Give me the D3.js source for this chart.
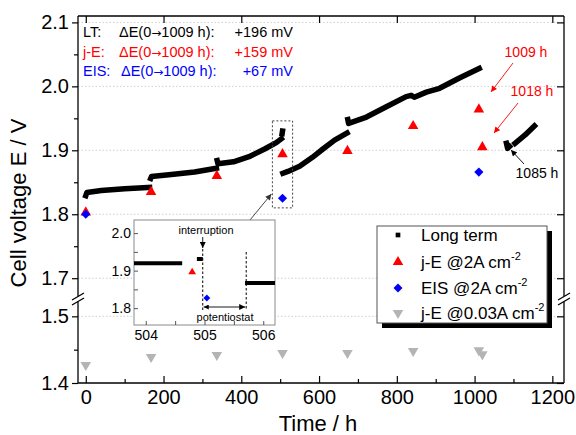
<!DOCTYPE html>
<html><head><meta charset="utf-8">
<script src="https://cdn.jsdelivr.net/npm/d3@7"></script>
<style>
body{margin:0;background:#fff;}
svg{display:block;font-family:"Liberation Sans",Arial,sans-serif;}
</style>
</head><body>
<svg id="c" width="576" height="435"></svg>
<script>
// ---------------- data ----------------
const ltSeg1 = [[0,1.829],[3,1.834],[40,1.837],[100,1.840],[164,1.842]];
const ltSeg2 = [[167,1.856],[169,1.859],[220,1.862],[280,1.866],[336,1.872]];
const ltSeg3 = [[338,1.884],[340,1.879],[380,1.882],[420,1.890],[460,1.902],[490,1.912],[503,1.918]];
const ltSeg3b = [[505,1.926],[506,1.930]];
const ltSeg4 = [[507,1.864],[520,1.867],[550,1.875],[583,1.889],[610,1.902],[640,1.916],[672,1.927]];
const ltSeg5 = [[674,1.948],[676,1.942],[722,1.952],[773,1.968],[824,1.984],[837,1.986],[845,1.983],[876,1.991],[910,1.997],[961,2.013],[1012,2.028]];
const ltSeg6 = [[1082,1.911],[1085,1.903],[1090,1.906]];
const ltSeg7 = [[1104,1.911],[1130,1.924],[1154,1.938]];
const ltSegments = [ltSeg1, ltSeg2, ltSeg3, ltSeg3b, ltSeg4, ltSeg5, ltSeg6, ltSeg7];

const jeTimes  = [0, 168, 337, 506, 673, 842, 1011, 1020];
const jeValues = [1.803, 1.835, 1.860, 1.894, 1.899, 1.938, 1.964, 1.905];
const eisTimes  = [0, 506, 1011];
const eisValues = [1.800, 1.825, 1.866];
const jeLowTimes  = [0, 168, 337, 506, 673, 842, 1011, 1020];
const jeLowValues = [1.427, 1.439, 1.442, 1.445, 1.445, 1.448, 1.449, 1.443];

const xTicks = [0,200,400,600,800,1000,1200];
const xMinor = [100,300,500,700,900,1100];
const yTicksUpper = [1.7,1.8,1.9,2.0,2.1];
const yMinorUpper = [1.75,1.85,1.95,2.05];
const yTicksLower = [1.4,1.5];
const yMinorLower = [1.45];

// inset
const insetLT1 = [[503.8,1.920],[504.62,1.920]];
const insetLT2 = [[504.87,1.931],[504.97,1.931]];
const insetLT3 = [[505.69,1.867],[506.2,1.867]];
const insetJE  = [[504.79,1.896]];
const insetEIS = [[505.04,1.827]];
const insetXTicks = [504,504.5,505,505.5,506];
const insetYTicks = [1.8,1.85,1.9,1.95,2.0];
const insetMarks = [504.97, 505.71];

// ---------------- scales ----------------
const svg = d3.select("#c");
const X0 = 78, X1 = 564, YT = 16, YB = 383;
const x = d3.scaleLinear().domain([-20,1230]).range([X0,X1]);
const yTop = d3.scaleLinear().domain([1.68,2.11]).range([291,16]);
const yBot = d3.scaleLinear().domain([1.4,1.52]).range([383,303]);
const yv = v => v >= 1.6 ? yTop(v) : yBot(v);
const BRK1 = 296.5, BRK2 = 301.5;

// gridlines
const grid = svg.append("g");
grid.selectAll("line").data(yTicksUpper.concat([1.5])).join("line")
  .attr("x1",X0).attr("x2",X1).attr("y1",d=>yv(d)).attr("y2",d=>yv(d))
  .attr("stroke","#cfcfcf").attr("stroke-width",1).attr("stroke-dasharray","1.5,2");

// ---------------- axes ----------------
const tickFont = g => g.selectAll("text").attr("font-size",20).attr("fill","#000").attr("font-family","Liberation Sans, Arial, sans-serif");
function clean(g){ g.select(".domain").remove(); g.selectAll("line").attr("stroke","#000").attr("stroke-width",1.2); }

svg.append("g").attr("transform",`translate(${X0},0)`)
  .call(d3.axisLeft(yTop).tickValues(yTicksUpper).tickSize(6).tickPadding(3).tickFormat(d3.format(".1f")))
  .call(clean).call(tickFont);
svg.append("g").attr("transform",`translate(${X0},0)`)
  .call(d3.axisLeft(yTop).tickValues(yMinorUpper).tickSize(4).tickFormat(""))
  .call(clean);
svg.append("g").attr("transform",`translate(${X0},0)`)
  .call(d3.axisLeft(yBot).tickValues(yTicksLower).tickSize(6).tickPadding(3).tickFormat(d3.format(".1f")))
  .call(clean).call(tickFont);
svg.append("g").attr("transform",`translate(${X0},0)`)
  .call(d3.axisLeft(yBot).tickValues(yMinorLower).tickSize(4).tickFormat(""))
  .call(clean);
svg.append("g").attr("transform",`translate(${X1},0)`)
  .call(d3.axisRight(yTop).tickValues(yTicksUpper).tickSize(-7).tickFormat(""))
  .call(clean);
svg.append("g").attr("transform",`translate(${X1},0)`)
  .call(d3.axisRight(yBot).tickValues(yTicksLower).tickSize(-7).tickFormat(""))
  .call(clean);
svg.append("g").attr("transform",`translate(0,${YB})`)
  .call(d3.axisBottom(x).tickValues(xTicks).tickSize(-7).tickPadding(7).tickFormat(d3.format("d")))
  .call(clean).call(tickFont);
svg.append("g").attr("transform",`translate(0,${YB})`)
  .call(d3.axisBottom(x).tickValues(xMinor).tickSize(-4).tickFormat(""))
  .call(clean);
svg.append("g").attr("transform",`translate(0,${YT})`)
  .call(d3.axisTop(x).tickValues(xTicks).tickSize(-7).tickFormat(""))
  .call(clean);

// frame
const fr = svg.append("g").attr("stroke","#000").attr("stroke-width",1.3);
fr.append("line").attr("x1",X0).attr("x2",X1).attr("y1",YT).attr("y2",YT);
fr.append("line").attr("x1",X0).attr("x2",X1).attr("y1",YB).attr("y2",YB);
[X0,X1].forEach(ax=>{
  fr.append("line").attr("x1",ax).attr("x2",ax).attr("y1",YT).attr("y2",BRK1);
  fr.append("line").attr("x1",ax).attr("x2",ax).attr("y1",BRK2).attr("y2",YB);
  [BRK1,BRK2].forEach(b=>{
    fr.append("line").attr("x1",ax-6).attr("y1",b+3.5).attr("x2",ax+6).attr("y2",b-3.5);
  });
});

// axis titles
svg.append("text").attr("x",318).attr("y",431).attr("text-anchor","middle")
  .attr("font-size",22).text("Time / h");
svg.append("text").attr("transform","translate(26,203) rotate(-90)").attr("text-anchor","middle")
  .attr("font-size",22).text("Cell voltage E / V");

// ---------------- marks ----------------
const line = d3.line().x(d=>x(d[0])).y(d=>yv(d[1]));
svg.append("g").selectAll("path").data(ltSegments).join("path")
  .attr("d",line).attr("fill","none").attr("stroke","#000").attr("stroke-width",5.5)
  .attr("stroke-linejoin","round").attr("stroke-linecap","square");

const tri = d3.symbol(d3.symbolTriangle, 48);
const sq = d3.symbol(d3.symbolSquare, 42);
svg.append("g").selectAll("path").data(jeLowTimes).join("path")
  .attr("d",tri).attr("fill","#b4b4b4")
  .attr("transform",(d,i)=>`translate(${x(d)},${yv(jeLowValues[i])}) rotate(180)`);
svg.append("g").selectAll("path").data(jeTimes).join("path")
  .attr("d",tri).attr("fill","#ff0000")
  .attr("transform",(d,i)=>`translate(${x(d)},${yv(jeValues[i])})`);
svg.append("g").selectAll("path").data(eisTimes).join("path")
  .attr("d",sq).attr("fill","#0000ff")
  .attr("transform",(d,i)=>`translate(${x(d)},${yv(eisValues[i])}) rotate(45)`);

// ---------------- markers ----------------
const defs = svg.append("defs");
function mk(id,color){
  defs.append("marker").attr("id",id).attr("viewBox","0 0 10 10").attr("refX",10).attr("refY",5)
    .attr("markerWidth",7).attr("markerHeight",6).attr("markerUnits","userSpaceOnUse").attr("orient","auto")
    .append("path").attr("d","M0,0L10,5L0,10Z").attr("fill",color);
}
mk("aR","#ff0000"); mk("aK","#000"); mk("aG","#333");
defs.append("marker").attr("id","aKs").attr("viewBox","0 0 10 10").attr("refX",0).attr("refY",5)
    .attr("markerWidth",6).attr("markerHeight",5).attr("markerUnits","userSpaceOnUse").attr("orient","auto")
    .append("path").attr("d","M10,0L0,5L10,10Z").attr("fill","#000");

// dashed rectangle around 505 h
svg.append("rect").attr("x",x(480)).attr("y",yv(1.946)).attr("width",x(532)-x(480)).attr("height",yv(1.81)-yv(1.946))
  .attr("fill","none").attr("stroke","#444").attr("stroke-width",1).attr("stroke-dasharray","2,2");

// top-left text
const tl = svg.append("g").attr("font-size",14.5);
const rows = [["LT:","#000","+196 mV",37],["j-E:","#ff0000","+159 mV",57],["EIS:","#0000ff","+67 mV",76]];
rows.forEach(r=>{
  tl.append("text").attr("x",83).attr("y",r[3]).attr("fill",r[1]).text(r[0]);
  const t = tl.append("text").attr("x",r[0]==="EIS:"?121:119).attr("y",r[3]).attr("fill",r[1]);
  t.append("tspan").text("\u0394E(0");
  t.append("tspan").attr("font-family","DejaVu Sans").attr("font-size",12).text("\u2192");
  t.append("tspan").text("1009 h):");
  tl.append("text").attr("x",293).attr("y",r[3]).attr("text-anchor","end").attr("fill",r[1]).text(r[2]);
});

// right annotations
const ann = svg.append("g").attr("font-size",14);
ann.append("text").attr("x",526).attr("y",57).attr("text-anchor","middle").attr("fill","#ff0000").text("1009 h");
ann.append("line").attr("x1",513).attr("y1",63).attr("x2",491).attr("y2",92).attr("stroke","#ff0000").attr("stroke-width",0.9).attr("marker-end","url(#aR)");
ann.append("text").attr("x",532).attr("y",96).attr("text-anchor","middle").attr("fill","#ff0000").text("1018 h");
ann.append("line").attr("x1",518).attr("y1",103).attr("x2",494).attr("y2",133).attr("stroke","#ff0000").attr("stroke-width",0.9).attr("marker-end","url(#aR)");
ann.append("text").attr("x",537).attr("y",178).attr("text-anchor","middle").attr("fill","#000").text("1085 h");
ann.append("line").attr("x1",524).attr("y1",164).attr("x2",511).attr("y2",150).attr("stroke","#000").attr("stroke-width",0.9).attr("marker-end","url(#aK)");

// ---------------- inset ----------------
const xi = d3.scaleLinear().domain([503.8,506.2]).range([134,275]);
const yi = d3.scaleLinear().domain([1.755,2.035]).range([325,220]);
const ins = svg.append("g");
ins.append("line").attr("x1",250).attr("y1",220).attr("x2",x(480)-1).attr("y2",194)
  .attr("stroke","#333").attr("stroke-width",0.9).attr("marker-end","url(#aG)");
ins.append("rect").attr("x",134).attr("y",220).attr("width",141).attr("height",105)
  .attr("fill","#fff").attr("stroke","#8a8a8a").attr("stroke-width",1);
const insFont = g => g.selectAll("text").attr("font-size",14).attr("fill","#000").attr("font-family","Liberation Sans, Arial, sans-serif");
ins.append("g").attr("transform","translate(0,325)")
  .call(d3.axisBottom(xi).tickValues(insetXTicks).tickSize(-4).tickPadding(5)
    .tickFormat(d=>Number.isInteger(d)?d3.format("d")(d):""))
  .call(g=>{g.select(".domain").remove(); g.selectAll("line").attr("stroke","#555");})
  .call(insFont);
ins.append("g").attr("transform","translate(134,0)")
  .call(d3.axisLeft(yi).tickValues(insetYTicks).tickSize(-4).tickPadding(3)
    .tickFormat(d=>Math.abs(d*10-Math.round(d*10))<1e-6?d3.format(".1f")(d):""))
  .call(g=>{g.select(".domain").remove(); g.selectAll("line").attr("stroke","#555");})
  .call(insFont);
const lineI = d3.line().x(d=>xi(d[0])).y(d=>yi(d[1]));
ins.selectAll("path.lt").data([insetLT1,insetLT2,insetLT3]).join("path").attr("class","lt")
  .attr("d",lineI).attr("fill","none").attr("stroke","#000").attr("stroke-width",4);
ins.append("line").attr("x1",xi(insetMarks[0])).attr("x2",xi(insetMarks[0])).attr("y1",249).attr("y2",310)
  .attr("stroke","#000").attr("stroke-width",1).attr("stroke-dasharray","2.5,2");
ins.append("line").attr("x1",xi(insetMarks[1])).attr("x2",xi(insetMarks[1])).attr("y1",252).attr("y2",310)
  .attr("stroke","#000").attr("stroke-width",1).attr("stroke-dasharray","2.5,2");
ins.selectAll("path.je").data(insetJE).join("path").attr("class","je")
  .attr("d",d3.symbol(d3.symbolTriangle,26)).attr("fill","#ff0000")
  .attr("transform",d=>`translate(${xi(d[0])},${yi(d[1])})`);
ins.selectAll("path.eis").data(insetEIS).join("path").attr("class","eis")
  .attr("d",d3.symbol(d3.symbolSquare,24)).attr("fill","#0000ff")
  .attr("transform",d=>`translate(${xi(d[0])},${yi(d[1])}) rotate(45)`);
ins.append("text").attr("x",206).attr("y",234).attr("text-anchor","middle").attr("font-size",11).text("interruption");
ins.append("line").attr("x1",xi(insetMarks[0])).attr("x2",xi(insetMarks[0])).attr("y1",237).attr("y2",248)
  .attr("stroke","#000").attr("stroke-width",0.9).attr("marker-end","url(#aK)");
ins.append("line").attr("x1",xi(insetMarks[0])+1).attr("x2",xi(insetMarks[1])-1).attr("y1",307).attr("y2",307)
  .attr("stroke","#000").attr("stroke-width",0.9).attr("marker-end","url(#aK)").attr("marker-start","url(#aKs)");
ins.append("text").attr("x",225).attr("y",321).attr("text-anchor","middle").attr("font-size",11).text("potentiostat");

// ---------------- legend ----------------
const lg = svg.append("g");
lg.append("rect").attr("x",382).attr("y",231).attr("width",170).attr("height",97).attr("fill","#000");
lg.append("rect").attr("x",377).attr("y",226).attr("width",170).attr("height",97).attr("fill","#fff").attr("stroke","#555").attr("stroke-width",1);
const legItems = [
  {label:"Long term", sup:"", y:235, sym:d3.symbol(d3.symbolSquare,22), color:"#000", rot:0},
  {label:"j-E @2A cm", sup:"-2", y:262, sym:d3.symbol(d3.symbolTriangle,48), color:"#ff0000", rot:0},
  {label:"EIS @2A cm", sup:"-2", y:288, sym:d3.symbol(d3.symbolSquare,40), color:"#0000ff", rot:45},
  {label:"j-E @0.03A cm", sup:"-2", y:313, sym:d3.symbol(d3.symbolTriangle,48), color:"#b4b4b4", rot:180}
];
legItems.forEach(it=>{
  lg.append("path").attr("d",it.sym).attr("fill",it.color).attr("transform",`translate(398,${it.y}) rotate(${it.rot})`);
  const t = lg.append("text").attr("x",421).attr("y",it.y+6).attr("font-size",17).text(it.label);
  if(it.sup) t.append("tspan").attr("dy",-8).attr("font-size",11).text(it.sup);
});
</script>
</body></html>
